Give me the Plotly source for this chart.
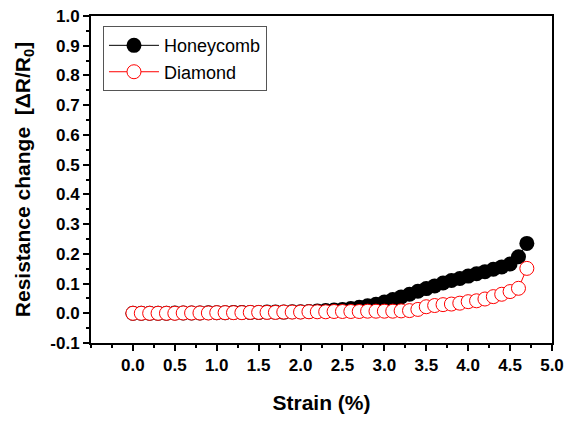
import plotly.graph_objects as go

strain = [round(i * 0.1, 1) for i in range(48)]  # 0.0 .. 4.7

honeycomb = [0.000, 0.000, 0.000, 0.000, 0.000, 0.001, 0.001, 0.001, 0.001, 0.002,
             0.002, 0.002, 0.003, 0.003, 0.003, 0.003, 0.004, 0.004, 0.004, 0.005,
             0.005, 0.006, 0.008, 0.009, 0.011, 0.013, 0.016, 0.020, 0.025, 0.030,
             0.038, 0.046, 0.055, 0.064, 0.074, 0.083, 0.092, 0.102, 0.110, 0.117,
             0.125, 0.133, 0.140, 0.148, 0.156, 0.166, 0.190, 0.235]

diamond = [0.000, 0.000, 0.000, 0.000, 0.000, 0.000, 0.001, 0.001, 0.001, 0.001,
           0.002, 0.002, 0.002, 0.002, 0.003, 0.003, 0.003, 0.003, 0.004, 0.004,
           0.004, 0.005, 0.005, 0.005, 0.006, 0.006, 0.006, 0.006, 0.007, 0.007,
           0.007, 0.007, 0.008, 0.009, 0.013, 0.022, 0.026, 0.029, 0.031, 0.034,
           0.039, 0.042, 0.048, 0.056, 0.064, 0.073, 0.084, 0.151]

x_ticks = [0.0, 0.5, 1.0, 1.5, 2.0, 2.5, 3.0, 3.5, 4.0, 4.5, 5.0]
y_ticks = [-0.1, 0.0, 0.1, 0.2, 0.3, 0.4, 0.5, 0.6, 0.7, 0.8, 0.9, 1.0]

fig = go.Figure()
fig.add_trace(go.Scatter(
    x=strain, y=honeycomb, mode="lines+markers", name="Honeycomb",
    line=dict(color="black", width=1),
    marker=dict(symbol="circle", size=15, color="black", line=dict(color="black", width=0)),
))
fig.add_trace(go.Scatter(
    x=strain, y=diamond, mode="lines+markers", name="Diamond",
    line=dict(color="red", width=1),
    marker=dict(symbol="circle", size=14, color="white", line=dict(color="red", width=1)),
))

axis_font = dict(family="Liberation Sans, Arial, sans-serif", size=17, color="black")

fig.update_layout(
    width=574, height=421,
    margin=dict(l=91, r=22, t=16, b=78, autoexpand=False),
    paper_bgcolor="white", plot_bgcolor="white",
    font=dict(family="Liberation Sans, Arial, sans-serif", color="black"),
    showlegend=True,
    legend=dict(
        x=0.026, y=0.969, xanchor="left", yanchor="top",
        bordercolor="#555555", borderwidth=1, bgcolor="white",
        font=dict(size=18, color="black"),
        tracegroupgap=0, itemwidth=50,
    ),
    xaxis=dict(
        range=[-0.5, 5.0], automargin=False,
        tickvals=x_ticks, ticktext=[f"<b>{v:.1f}</b>" for v in x_ticks],
        ticks="outside", ticklen=6, tickwidth=2, tickcolor="black",
        minor=dict(dtick=0.25, tick0=0, ticks="outside", ticklen=3, tickwidth=2, tickcolor="black"),
        showline=True, linewidth=2, linecolor="black", mirror=True,
        showgrid=False, zeroline=False,
        tickfont=axis_font,
        title=dict(text="<b>Strain (%)</b>", font=dict(size=21, color="black"), standoff=21),
    ),
    yaxis=dict(
        range=[-0.1, 1.0], automargin=False,
        tickvals=y_ticks, ticktext=[f"<b>{v:.1f}</b>" for v in y_ticks],
        ticks="outside", ticklen=6, tickwidth=2, tickcolor="black",
        minor=dict(dtick=0.05, tick0=0, ticks="outside", ticklen=3, tickwidth=2, tickcolor="black"),
        showline=True, linewidth=2, linecolor="black", mirror=True,
        showgrid=False, zeroline=False,
        tickfont=axis_font,
        title=dict(text="<b>Resistance change  [ΔR/R<sub>0</sub>]</b>", font=dict(size=21, color="black"), standoff=14),
    ),
)

fig.write_html("out.html")
